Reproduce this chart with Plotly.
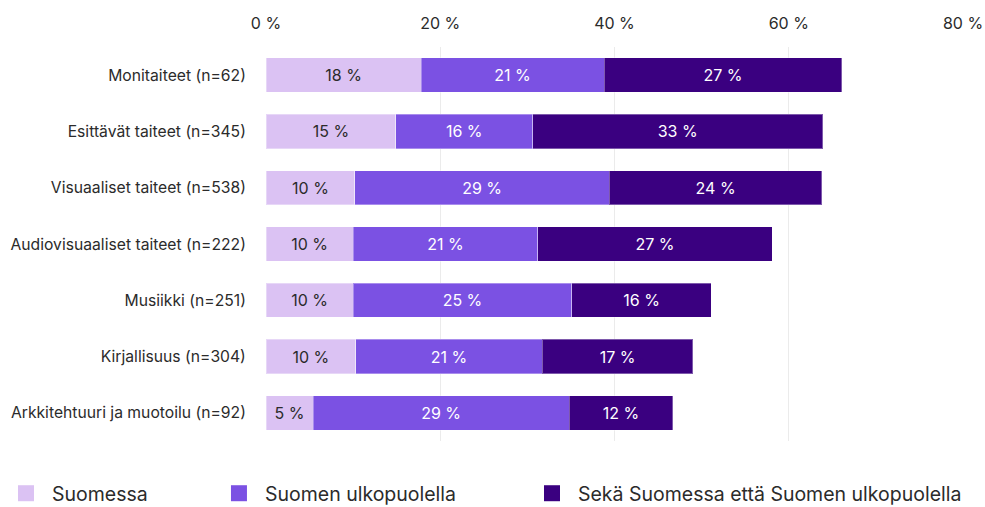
import plotly.graph_objects as go

# Kategoriat ja osuudet (%), luettu kuvasta
categories = [
    "Monitaiteet (n=62)",
    "Esittävät taiteet (n=345)",
    "Visuaaliset taiteet (n=538)",
    "Audiovisuaaliset taiteet (n=222)",
    "Musiikki (n=251)",
    "Kirjallisuus (n=304)",
    "Arkkitehtuuri ja muotoilu (n=92)",
]
suomessa = [17.8, 14.9, 10.2, 10.0, 10.0, 10.3, 5.4]
ulkopuolella = [21.0, 15.7, 29.2, 21.2, 25.1, 21.4, 29.4]
molemmat = [27.3, 33.3, 24.4, 26.9, 16.0, 17.3, 11.9]

series_names = ["Suomessa", "Suomen ulkopuolella", "Sekä Suomessa että Suomen ulkopuolella"]
colors = ["#dbc2f3", "#7b51e3", "#3a0080"]
text_colors = ["#2b2b2b", "#ffffff", "#ffffff"]
x_ticks = [0, 20, 40, 60, 80]

FONT = "Inter, Noto Sans, sans-serif"

fig = go.Figure()

for i, (name, vals) in enumerate(zip(series_names, [suomessa, ulkopuolella, molemmat])):
    fig.add_trace(go.Bar(
        y=categories, x=vals, orientation="h", name=name,
        marker=dict(color=colors[i], line=dict(color="rgba(255,255,255,0.35)", width=1)),
        texttemplate="%{x:.0f} %", textposition="inside", insidetextanchor="middle",
        textfont=dict(family=FONT, size=16, color=text_colors[i]),
        constraintext="none", showlegend=False, hoverinfo="skip",
    ))

# Selitteet omina legendoinaan, jotta välit vastaavat kuvaa
legend_x = [0.0, 0.2162, 0.534]
for i, name in enumerate(series_names):
    lg = "legend" if i == 0 else f"legend{i + 1}"
    fig.add_trace(go.Scatter(
        x=[None], y=[None], mode="markers", name=name, legend=lg,
        marker=dict(symbol="square", size=20, color=colors[i]),
    ))

legend_common = dict(
    orientation="h", xref="container", yref="container", y=0.065, yanchor="top",
    itemwidth=42,
    font=dict(family=FONT, size=19.5, color="#2b2b2b"), bgcolor="rgba(0,0,0,0)",
)
fig.update_layout(
    legend=dict(x=legend_x[0], **legend_common),
    legend2=dict(x=legend_x[1], **legend_common),
    legend3=dict(x=legend_x[2], **legend_common),
)

fig.update_layout(
    barmode="stack",
    bargap=0.39,
    width=985, height=507,
    margin=dict(l=266, r=22, t=47, b=66, autoexpand=False),
    plot_bgcolor="white", paper_bgcolor="white",
    font=dict(family=FONT, size=16, color="#2b2b2b"),
    xaxis=dict(
        side="top", range=[0, 80], tickvals=x_ticks,
        ticktext=[f"{v} %" for v in x_ticks],
        showgrid=True, gridcolor="#ebebeb", gridwidth=1, zeroline=False,
        ticks="outside", ticklen=11, tickcolor="rgba(0,0,0,0)",
        tickfont=dict(family=FONT, size=16, color="#2b2b2b"),
        automargin=False, fixedrange=True,
    ),
    yaxis=dict(
        autorange="reversed", showgrid=False, zeroline=False,
        ticks="outside", ticklen=16, tickcolor="rgba(0,0,0,0)",
        tickfont=dict(family=FONT, size=15.7, color="#2b2b2b"),
        automargin=False, fixedrange=True,
    ),
)

# sivun oletusmarginaali pois, jotta kuva täyttää ikkunan tarkalleen
fig.write_html("out.html", config={"displayModeBar": False},
               post_script="document.body.style.margin='0';")
